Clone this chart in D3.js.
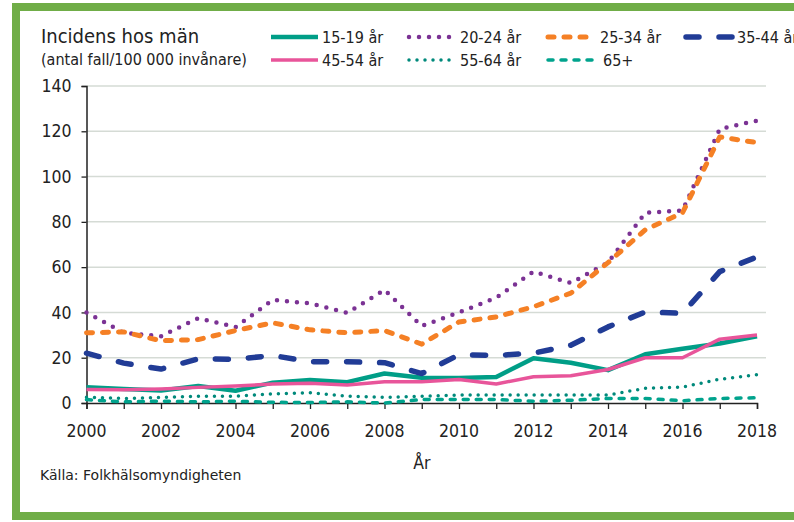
<!DOCTYPE html>
<html>
<head>
<meta charset="utf-8">
<script src="https://cdn.jsdelivr.net/npm/d3@7.8.5/dist/d3.min.js"></script>
<style>
  body { margin: 0; background: #fff; }
  svg text { font-family: "DejaVu Sans Condensed", "DejaVu Sans", sans-serif; font-stretch: condensed; fill: #222; }
  svg text.wide { font-family: "DejaVu Sans", sans-serif; font-stretch: normal; }
</style>
</head>
<body>
<svg width="794" height="522"></svg>
<script>
// data
const years = d3.range(2000, 2019);
const seriesNames = ["15-19 år", "20-24 år", "25-34 år", "35-44 år", "45-54 år", "55-64 år", "65+"];
const age15_19 = [7, 6.2, 5.5, 7.5, 5.4, 9, 10.2, 9.2, 13, 11.2, 11, 11.5, 19.8, 17.8, 14.5, 21.5, 24, 26.3, 29.5];
const age20_24 = [40, 31, 29.5, 37.5, 33.5, 45.5, 44, 39.8, 50, 34, 40, 46.5, 58, 53, 62, 84, 85, 121, 124.7];
const age25_34 = [31, 31.4, 27.5, 28, 32, 35.4, 32.3, 31, 32, 26, 35.8, 38, 42.5, 48.5, 62, 76.5, 84, 117.5, 115];
const age35_44 = [22, 17.6, 15, 19.5, 19.3, 21, 18.2, 18.2, 17.8, 13, 21.3, 21, 22, 25.5, 33.6, 40.2, 39.6, 58, 64.5];
const age45_54 = [6, 5.8, 6.2, 6.9, 7.5, 8.4, 8.7, 7.9, 9.4, 9.4, 10.4, 8.4, 11.6, 12, 14.8, 20, 20, 28.2, 30];
const age55_64 = [2.5, 2, 2.5, 3, 3, 4, 4.5, 3, 2.5, 3, 3.5, 3.5, 3.5, 3.5, 3.5, 6.5, 7, 10.5, 12.5];
const age65plus = [1.5, 0.5, 0.8, 0.5, 0.8, 0.3, 0.2, 0.5, 0, 1.5, 1.5, 1.5, 0.8, 1.2, 2, 2, 1, 2, 2.3];
const yTicks = [0, 20, 40, 60, 80, 100, 120, 140];
const xTickLabels = [2000, 2002, 2004, 2006, 2008, 2010, 2012, 2014, 2016, 2018];

const allValues = [age15_19, age20_24, age25_34, age35_44, age45_54, age55_64, age65plus];

// line styles per series
const styles = [
  { color: "#009e87", width: 4.5, dash: null },
  { color: "#7b3294", width: 4.5, dash: "0 10" },
  { color: "#f58025", width: 5, dash: "6 10" },
  { color: "#213c96", width: 5.5, dash: "13 20" },
  { color: "#e8559a", width: 3.5, dash: null },
  { color: "#00897b", width: 3.5, dash: "0 8" },
  { color: "#00a38d", width: 3.5, dash: "5 8" }
];

const svg = d3.select("svg");

// green frame
svg.append("rect")
  .attr("x", 16).attr("y", 7).attr("width", 800).attr("height", 509)
  .attr("fill", "none").attr("stroke", "#70ad47").attr("stroke-width", 8);

const x = d3.scaleLinear().domain([2000, 2018]).range([86.5, 757]);
const y = d3.scaleLinear().domain([0, 140]).range([403, 86]);

// gridlines
svg.append("g")
  .selectAll("line")
  .data(yTicks.filter(d => d > 0))
  .join("line")
  .attr("x1", 86.5).attr("x2", 766)
  .attr("y1", d => y(d)).attr("y2", d => y(d))
  .attr("stroke", "#d5dbd5").attr("stroke-width", 1.5);

// y axis
const yAxis = svg.append("g")
  .attr("transform", "translate(86.5,0)")
  .call(d3.axisLeft(y).tickValues(yTicks).tickSize(5).tickPadding(10));
yAxis.select(".domain").attr("stroke", "#222").attr("stroke-width", 1.5);
yAxis.selectAll(".tick line").attr("stroke", "#222").attr("stroke-width", 1.3);
yAxis.selectAll("text").attr("font-size", 17.5);

// x axis
const xAxis = svg.append("g")
  .attr("transform", "translate(0,403)")
  .call(d3.axisBottom(x).tickValues(years).tickSize(6).tickFormat(""));
xAxis.select(".domain").attr("stroke", "#222").attr("stroke-width", 1.5);
xAxis.selectAll(".tick line").attr("stroke", "#222").attr("stroke-width", 1.3);

svg.append("g")
  .selectAll("text")
  .data(xTickLabels)
  .join("text")
  .attr("x", d => x(d)).attr("y", 437)
  .attr("text-anchor", "middle")
  .attr("font-size", 17.5)
  .text(d => d);

svg.append("text")
  .attr("x", x(2009)).attr("y", 469)
  .attr("text-anchor", "middle").attr("font-size", 17.5)
  .text("År");

svg.append("text")
  .attr("class", "wide")
  .attr("x", 40).attr("y", 480)
  .attr("font-size", 14)
  .text("Källa: Folkhälsomyndigheten");

// series lines
const line = d3.line().x((d, i) => x(years[i])).y(d => y(d));

svg.append("g")
  .selectAll("path")
  .data(allValues)
  .join("path")
  .attr("d", d => line(d))
  .attr("fill", "none")
  .attr("stroke", (d, i) => styles[i].color)
  .attr("stroke-width", (d, i) => styles[i].width)
  .attr("stroke-dasharray", (d, i) => styles[i].dash)
  .attr("stroke-linecap", (d, i) => styles[i].dash ? "round" : "butt")
  .attr("stroke-linejoin", "round");

// title
svg.append("text")
  .attr("x", 41).attr("y", 43)
  .attr("font-size", 20)
  .text("Incidens hos män");
svg.append("text")
  .attr("x", 41).attr("y", 65)
  .attr("font-size", 16)
  .text("(antal fall/100 000 invånare)");

// legend
const legendPos = [
  { x: 271, y: 37 }, { x: 409, y: 37 }, { x: 548, y: 37 }, { x: 686, y: 37 },
  { x: 271, y: 60 }, { x: 409, y: 60 }, { x: 548, y: 60 }
];
const legendTextX = [322, 460, 600, 737, 322, 460, 603];

const legend = svg.append("g")
  .selectAll("g")
  .data(seriesNames)
  .join("g");

legend.append("line")
  .attr("x1", (d, i) => legendPos[i].x)
  .attr("x2", (d, i) => legendPos[i].x + (i === 3 ? 50 : 47))
  .attr("y1", (d, i) => legendPos[i].y)
  .attr("y2", (d, i) => legendPos[i].y)
  .attr("stroke", (d, i) => styles[i].color)
  .attr("stroke-width", (d, i) => styles[i].width)
  .attr("stroke-dasharray", (d, i) => styles[i].dash)
  .attr("stroke-linecap", (d, i) => styles[i].dash ? "round" : "butt");

legend.append("text")
  .attr("x", (d, i) => legendTextX[i])
  .attr("y", (d, i) => legendPos[i].y + 5.5)
  .attr("font-size", 16)
  .text(d => d);
</script>
</body>
</html>
